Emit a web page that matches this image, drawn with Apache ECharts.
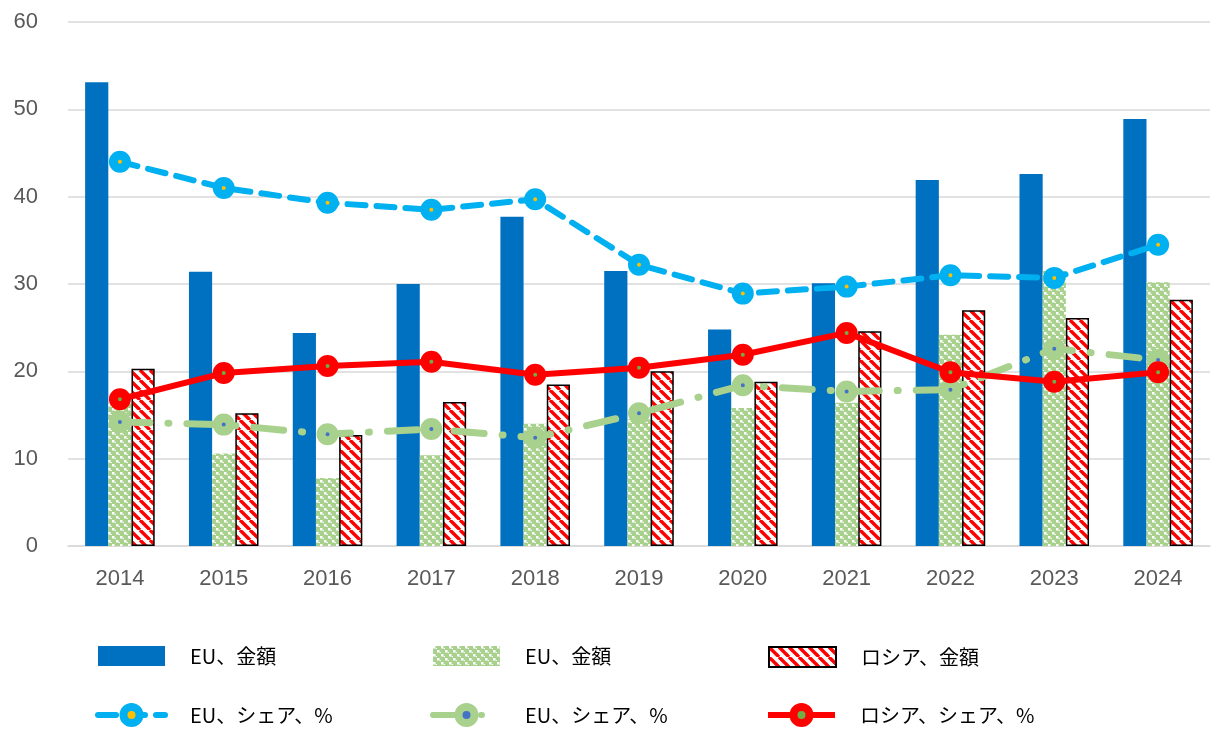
<!DOCTYPE html>
<html>
<head>
<meta charset="utf-8">
<script src="https://cdn.jsdelivr.net/npm/echarts@6/dist/echarts.min.js"></script>
<style>
html, body { margin: 0; padding: 0; background: #fff; }
#myChart { width: 1216px; height: 729px; }
</style>
</head>
<body>
<div id="myChart"></div>
<script>
// データ
var years = ['2014', '2015', '2016', '2017', '2018', '2019', '2020', '2021', '2022', '2023', '2024'];
var euAmountA = [53.1, 31.4, 24.4, 30.0, 37.7, 31.5, 24.8, 30.1, 41.9, 42.6, 48.9];
var euAmountB = [16.3, 10.6, 7.8, 10.4, 14.0, 14.5, 15.8, 16.4, 24.2, 31.5, 30.2];
var ruAmount = [20.3, 15.2, 12.7, 16.5, 18.5, 20.0, 18.8, 24.6, 27.0, 26.1, 28.2];
var euShareA = [44.0, 41.0, 39.3, 38.5, 39.7, 32.2, 28.9, 29.7, 31.0, 30.7, 34.5];
var euShareB = [14.2, 13.9, 12.8, 13.4, 12.4, 15.2, 18.4, 17.7, 17.9, 22.6, 21.3];
var ruShare = [16.8, 19.8, 20.6, 21.1, 19.6, 20.4, 21.9, 24.4, 19.9, 18.8, 19.9];
var yTicks = { min: 0, max: 60, interval: 10 };

// 緑のチェック柄
function makeCheck() {
    var c = document.createElement('canvas');
    c.width = 8; c.height = 8;
    var g = c.getContext('2d');
    g.fillStyle = '#a9d18e';
    g.fillRect(0, 0, 8, 8);
    g.fillStyle = '#ffffff';
    g.fillRect(0, 0, 2.5, 2.5);
    g.fillRect(4, 4, 2.5, 2.5);
    g.fillRect(2.5, 2, 1.5, 1);
    g.fillRect(6.5, 6, 1.5, 1);
    return c;
}
// 赤の斜線
function makeHatch() {
    var c = document.createElement('canvas');
    c.width = 10; c.height = 10;
    var g = c.getContext('2d');
    g.fillStyle = '#ffffff';
    g.fillRect(0, 0, 10, 10);
    g.strokeStyle = '#ff0000';
    g.lineWidth = 3.4;
    for (var k = -10; k <= 20; k += 10) {
        g.beginPath(); g.moveTo(k, 0); g.lineTo(k + 10, 10); g.stroke();
    }
    return c;
}

var font = '"Noto Sans CJK JP", "Noto Sans", sans-serif';
var legendText = { color: '#000', fontSize: 20, fontFamily: font, padding: [0, 0, 0, 20] };
function leg(name, left, top, extra) {
    var l = {
        data: [name], left: left, top: top, itemWidth: 67, itemHeight: 20,
        textStyle: legendText, selectedMode: false
    };
    for (var k in extra) l[k] = extra[k];
    return l;
}
var barLeg = { icon: 'rect' };
var lineLeg = { lineStyle: { width: 6 }, itemStyle: { borderWidth: 8 } };

var myChart = echarts.init(document.getElementById('myChart'));
var option = {
    animation: false,
    grid: { left: 68, right: 6, top: 22, bottom: 183 },
    legend: [
        leg('EU、金額', 93, 641, barLeg),
        leg('EU、金額 ', 428, 641, barLeg),
        leg('ロシア、金額', 763, 641, barLeg),
        leg('EU、シェア、%', 90, 698, lineLeg),
        leg('EU、シェア、% ', 425, 698, lineLeg),
        leg('ロシア、シェア、%', 760, 698, lineLeg)
    ],
    xAxis: {
        type: 'category',
        data: years,
        axisLine: { lineStyle: { color: '#d9d9d9', width: 1.5 } },
        axisTick: { show: false },
        axisLabel: { color: '#595959', fontSize: 22, fontFamily: 'Arial, "Liberation Sans", sans-serif', margin: 22 }
    },
    yAxis: {
        type: 'value',
        min: yTicks.min, max: yTicks.max, interval: yTicks.interval,
        axisLine: { show: false },
        axisTick: { show: false },
        splitLine: { lineStyle: { color: '#d9d9d9', width: 1.5 } },
        axisLabel: { color: '#595959', fontSize: 22, fontFamily: 'Arial, "Liberation Sans", sans-serif', margin: 30 }
    },
    series: [
        {
            name: 'EU、金額', type: 'bar', data: euAmountA,
            barGap: '0%', barCategoryGap: '33%',
            itemStyle: { color: '#0070c0' }
        },
        {
            name: 'EU、金額 ', type: 'bar', data: euAmountB,
            itemStyle: { color: { image: makeCheck(), repeat: 'repeat' } }
        },
        {
            name: 'ロシア、金額', type: 'bar', data: ruAmount,
            itemStyle: { color: { image: makeHatch(), repeat: 'repeat' }, borderColor: '#000', borderWidth: 1.5 }
        },
        {
            name: 'EU、シェア、%', type: 'line', data: euShareA, z: 5,
            symbol: 'circle', symbolSize: 13,
            lineStyle: { color: '#00b0f0', width: 6, type: [18, 11], cap: 'round' },
            itemStyle: { color: '#ffc000', borderColor: '#00b0f0', borderWidth: 9 }
        },
        {
            name: 'EU、シェア、% ', type: 'line', data: euShareB, z: 5,
            symbol: 'circle', symbolSize: 13,
            lineStyle: { color: '#a9d18e', width: 7, type: [30, 18, 1, 18], cap: 'round' },
            itemStyle: { color: '#4472c4', borderColor: '#a9d18e', borderWidth: 9 }
        },
        {
            name: 'ロシア、シェア、%', type: 'line', data: ruShare, z: 6,
            symbol: 'circle', symbolSize: 13,
            lineStyle: { color: '#ff0000', width: 6 },
            itemStyle: { color: '#70ad47', borderColor: '#ff0000', borderWidth: 9 }
        }
    ]
};
myChart.setOption(option);
</script>
</body>
</html>
